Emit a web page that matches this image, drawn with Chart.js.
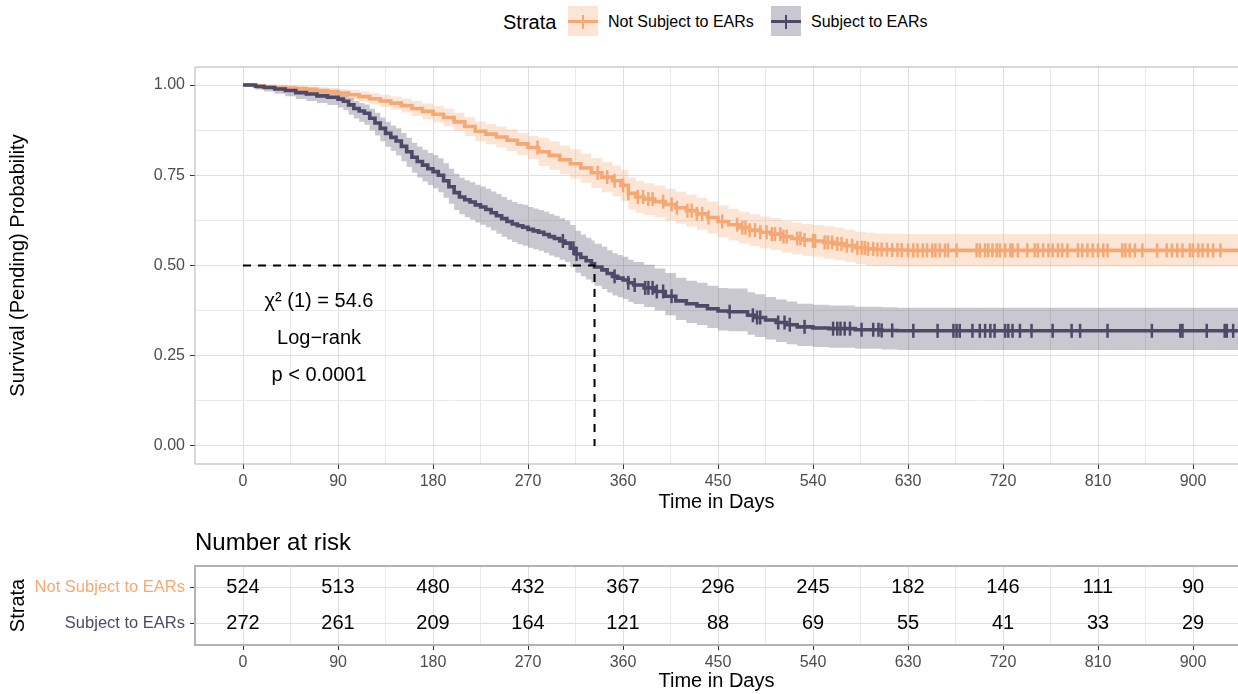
<!DOCTYPE html>
<html>
<head>
<meta charset="utf-8">
<script src="https://cdn.jsdelivr.net/npm/chart.js@4.4.1/dist/chart.umd.min.js"></script>
<style>
  html, body { margin: 0; padding: 0; background: #fff; width: 1238px; height: 694px; overflow: hidden; }
  body { position: relative; font-family: 'Liberation Sans', Arial, sans-serif; color: #000; }
  .abs { position: absolute; white-space: nowrap; }
  #km-wrap { position: absolute; left: 0; top: 0; width: 1238px; height: 514px; }
  #risk-wrap { position: absolute; left: 0; top: 520px; width: 1238px; height: 174px; }
  .legend-title { font-size: 20px; line-height: 30px; top: 7px; left: 503px; }
  .legend-label { font-size: 16px; line-height: 30px; top: 7px; }
  .key { width: 30px; height: 30px; top: 6px; }
  .key .h { position: absolute; left: 0; right: 0; top: 13.5px; height: 3.5px; }
  .key .v { position: absolute; left: 13.75px; width: 2.5px; top: 8.5px; height: 14px; }
</style>
</head>
<body>
<div class="abs legend-title">Strata</div>
<div class="abs key" id="key-not" style="left:568px"><i class="h"></i><i class="v"></i></div>
<div class="abs legend-label" style="left:608px">Not Subject to EARs</div>
<div class="abs key" id="key-subj" style="left:771px"><i class="h"></i><i class="v"></i></div>
<div class="abs legend-label" style="left:811px">Subject to EARs</div>

<div id="km-wrap"><canvas id="kmChart"></canvas></div>
<div id="risk-wrap"><canvas id="riskChart"></canvas></div>

<script>
// Kaplan-Meier estimates with 95% limits, time in days
const NOT_T = [0, 10, 20, 30, 40, 50, 60, 70, 80, 90, 100, 110, 120, 130, 140, 150, 160, 170, 180, 190,
  200, 210, 220, 230, 240, 250, 260, 270, 280, 290, 300, 310, 320, 330, 340, 350, 358, 365, 372, 380,
  390, 400, 410, 420, 430, 440, 450, 460, 470, 480, 490, 500, 510, 520, 530, 540, 550, 560, 570, 580,
  590, 600, 615, 630, 943];
const NOT_S = [1.000, 0.998, 0.996, 0.994, 0.992, 0.990, 0.988, 0.985, 0.982, 0.978, 0.973, 0.968, 0.962, 0.956, 0.950, 0.943, 0.935, 0.927, 0.919, 0.910,
  0.898, 0.885, 0.872, 0.864, 0.856, 0.847, 0.837, 0.827, 0.815, 0.805, 0.793, 0.782, 0.770, 0.757, 0.745, 0.735, 0.722, 0.700, 0.690, 0.684,
  0.677, 0.669, 0.660, 0.652, 0.643, 0.633, 0.622, 0.613, 0.605, 0.598, 0.592, 0.587, 0.580, 0.575, 0.571, 0.568, 0.564, 0.560, 0.555, 0.549,
  0.546, 0.544, 0.543, 0.542, 0.542];
const NOT_LOWER = [1.000, 0.995, 0.992, 0.989, 0.986, 0.983, 0.980, 0.976, 0.972, 0.967, 0.960, 0.954, 0.947, 0.939, 0.932, 0.924, 0.914, 0.905, 0.896, 0.886,
  0.873, 0.859, 0.845, 0.836, 0.827, 0.817, 0.806, 0.795, 0.776, 0.765, 0.753, 0.741, 0.729, 0.715, 0.703, 0.692, 0.678, 0.656, 0.646, 0.640,
  0.633, 0.625, 0.616, 0.608, 0.599, 0.589, 0.578, 0.569, 0.561, 0.554, 0.548, 0.543, 0.536, 0.531, 0.527, 0.524, 0.519, 0.515, 0.510, 0.504,
  0.501, 0.499, 0.498, 0.497, 0.497];
const NOT_UPPER = [1.000, 1.000, 1.000, 0.999, 0.998, 0.997, 0.996, 0.994, 0.992, 0.989, 0.986, 0.982, 0.977, 0.973, 0.968, 0.962, 0.956, 0.949, 0.942, 0.934,
  0.923, 0.911, 0.899, 0.892, 0.885, 0.877, 0.868, 0.859, 0.853, 0.844, 0.832, 0.822, 0.810, 0.798, 0.787, 0.777, 0.765, 0.744, 0.734, 0.728,
  0.721, 0.713, 0.704, 0.696, 0.687, 0.677, 0.666, 0.657, 0.649, 0.642, 0.636, 0.631, 0.624, 0.619, 0.615, 0.612, 0.609, 0.605, 0.600, 0.594,
  0.591, 0.589, 0.588, 0.587, 0.587];

const SUBJ_T = [0, 5, 12, 20, 30, 40, 50, 60, 70, 80, 90, 95, 100, 105, 110, 115, 120, 125, 130, 135,
  140, 145, 150, 155, 160, 165, 170, 175, 180, 185, 190, 195, 200, 205, 210, 215, 220, 225, 230, 235,
  240, 245, 250, 255, 260, 265, 270, 275, 280, 285, 290, 295, 300, 305, 310, 315, 320, 325, 330, 333,
  340, 345, 350, 355, 360, 365, 370, 380, 390, 400, 410, 420, 430, 440, 450, 460, 470, 478, 485, 495,
  505, 515, 525, 540, 555, 580, 605, 620, 943];
const SUBJ_S = [1.000, 1.000, 0.996, 0.993, 0.989, 0.985, 0.979, 0.975, 0.970, 0.966, 0.961, 0.955, 0.945, 0.935, 0.928, 0.922, 0.908, 0.895, 0.880, 0.866,
  0.855, 0.845, 0.830, 0.815, 0.800, 0.788, 0.778, 0.768, 0.760, 0.750, 0.735, 0.718, 0.702, 0.690, 0.682, 0.676, 0.668, 0.662, 0.655, 0.646,
  0.638, 0.630, 0.622, 0.615, 0.610, 0.606, 0.600, 0.596, 0.592, 0.586, 0.580, 0.575, 0.568, 0.562, 0.548, 0.532, 0.522, 0.513, 0.505, 0.496,
  0.488, 0.478, 0.470, 0.465, 0.460, 0.452, 0.446, 0.438, 0.428, 0.415, 0.402, 0.394, 0.388, 0.380, 0.374, 0.372, 0.372, 0.362, 0.356, 0.349,
  0.342, 0.336, 0.330, 0.327, 0.325, 0.322, 0.320, 0.319, 0.319];
const SUBJ_LOWER = [1.000, 1.000, 0.988, 0.982, 0.976, 0.969, 0.961, 0.956, 0.950, 0.945, 0.938, 0.931, 0.918, 0.907, 0.898, 0.890, 0.874, 0.860, 0.844, 0.829,
  0.817, 0.805, 0.789, 0.773, 0.757, 0.744, 0.733, 0.723, 0.714, 0.703, 0.688, 0.671, 0.654, 0.642, 0.634, 0.627, 0.619, 0.613, 0.606, 0.597,
  0.588, 0.580, 0.572, 0.565, 0.559, 0.555, 0.549, 0.545, 0.541, 0.535, 0.528, 0.523, 0.516, 0.510, 0.496, 0.480, 0.470, 0.461, 0.453, 0.444,
  0.435, 0.425, 0.417, 0.412, 0.407, 0.399, 0.393, 0.385, 0.375, 0.362, 0.349, 0.341, 0.335, 0.327, 0.320, 0.318, 0.318, 0.308, 0.302, 0.295,
  0.288, 0.282, 0.277, 0.274, 0.272, 0.269, 0.267, 0.266, 0.266];
const SUBJ_UPPER = [1.000, 1.000, 1.000, 1.000, 0.997, 0.996, 0.990, 0.988, 0.984, 0.981, 0.977, 0.973, 0.965, 0.956, 0.950, 0.946, 0.934, 0.923, 0.910, 0.898,
  0.888, 0.880, 0.867, 0.854, 0.840, 0.830, 0.821, 0.812, 0.806, 0.797, 0.783, 0.768, 0.754, 0.743, 0.736, 0.731, 0.724, 0.719, 0.713, 0.705,
  0.698, 0.690, 0.682, 0.676, 0.671, 0.668, 0.662, 0.658, 0.654, 0.649, 0.643, 0.638, 0.631, 0.625, 0.612, 0.596, 0.586, 0.577, 0.569, 0.560,
  0.552, 0.542, 0.534, 0.529, 0.524, 0.516, 0.510, 0.502, 0.492, 0.479, 0.466, 0.458, 0.452, 0.444, 0.438, 0.436, 0.436, 0.426, 0.420, 0.413,
  0.406, 0.400, 0.394, 0.391, 0.389, 0.386, 0.384, 0.383, 0.383];

// censoring times
const NOT_CENSOR = [279, 336, 345, 352, 360, 365, 374, 379, 384, 388, 398, 406, 411, 421, 425, 430, 435, 441, 454, 468,
  473, 476, 480, 485, 490, 496, 501, 504, 509, 512, 515, 525, 528, 532, 540, 542, 551, 554, 558, 563,
  567, 572, 577, 582, 586, 589, 592, 597, 601, 605, 610, 615, 620, 624, 630, 635, 639, 644, 648, 653,
  656, 660, 665, 668, 676, 695, 698, 703, 706, 710, 714, 717, 722, 727, 729, 734, 743, 750, 753, 758,
  763, 767, 772, 776, 781, 791, 795, 800, 805, 810, 815, 819, 833, 836, 840, 845, 852, 866, 875, 880,
  885, 890, 897, 900, 905, 909, 914, 919, 926];
const SUBJ_CENSOR = [303, 313, 316, 352, 365, 371, 381, 384, 388, 392, 398, 406, 461, 483, 487, 490, 507, 513, 518, 532,
  559, 563, 566, 570, 575, 586, 597, 602, 605, 615, 635, 658, 673, 676, 679, 691, 698, 703, 708, 712,
  722, 725, 729, 736, 747, 767, 785, 793, 819, 861, 888, 890, 913, 930, 932, 938];

const MEDIAN_SUBJ = 333;

// number at risk table
const RISK_TIMES = [0, 90, 180, 270, 360, 450, 540, 630, 720, 810, 900];
const RISK_NOT = [524, 513, 480, 432, 367, 296, 245, 182, 146, 111, 90];
const RISK_SUBJ = [272, 261, 209, 164, 121, 88, 69, 55, 41, 33, 29];

const X_TICKS = [0, 45, 90, 135, 180, 225, 270, 315, 360, 405, 450, 495, 540, 585, 630, 675, 720, 765, 810, 855, 900];
const Y_TICKS = [0, 0.125, 0.25, 0.375, 0.5, 0.625, 0.75, 0.875, 1];

const COLOR_NOT = '#F5A874';
const COLOR_SUBJ = '#4C4A68';
const FILL_NOT = 'rgba(245, 168, 116, 0.3)';
const FILL_SUBJ = 'rgba(76, 74, 104, 0.3)';
const FONT = "'Liberation Sans', Arial, sans-serif";
const GRID_MAJOR = '#DEDEDE';
const GRID_MINOR = '#E9E9E9';
const TICK_TEXT = '#4D4D4D';

document.querySelector('#key-not').style.background = FILL_NOT;
document.querySelector('#key-not .h').style.background = COLOR_NOT;
document.querySelector('#key-not .v').style.background = COLOR_NOT;
document.querySelector('#key-subj').style.background = FILL_SUBJ;
document.querySelector('#key-subj .h').style.background = COLOR_SUBJ;
document.querySelector('#key-subj .v').style.background = COLOR_SUBJ;

function toPoints(xs, ys) {
  return xs.map((x, i) => ({ x, y: ys[i] }));
}

function survAt(times, surv, t) {
  let s = surv[0];
  for (let i = 0; i < times.length; i++) {
    if (times[i] <= t) s = surv[i];
    else break;
  }
  return s;
}

function censorPoints(censor, times, surv) {
  return censor.map((t) => ({ x: t, y: survAt(times, surv, t) }));
}

function stepLine(data, color) {
  return { data, stepped: 'before', borderColor: color, borderWidth: 3.6, pointRadius: 0, fill: false };
}

function censorMarks(data, color) {
  return {
    data,
    showLine: false,
    pointStyle: 'line',
    rotation: 90,
    pointRadius: 7,
    pointBorderWidth: 2.5,
    pointBorderColor: color,
    borderColor: color
  };
}

function bandEdge(data, fillColor) {
  return {
    data,
    stepped: 'before',
    borderWidth: 0,
    pointRadius: 0,
    backgroundColor: fillColor || 'transparent',
    fill: fillColor ? '+1' : false
  };
}

const isMajorX = (v) => v % 90 === 0;

function xScale() {
  return {
    type: 'linear',
    min: -45.5,
    max: 942.6,
    afterBuildTicks: (s) => { s.ticks = X_TICKS.map((v) => ({ value: v })); },
    ticks: {
      autoSkip: false,
      maxRotation: 0,
      padding: 3,
      color: TICK_TEXT,
      font: { family: FONT, size: 16 },
      callback: (v) => (isMajorX(v) ? String(v) : '')
    },
    grid: {
      color: (ctx) => (ctx.tick && isMajorX(ctx.tick.value) ? GRID_MAJOR : GRID_MINOR),
      tickColor: (ctx) => (ctx.tick && isMajorX(ctx.tick.value) ? '#333333' : 'rgba(0,0,0,0)'),
      tickLength: 5,
      lineWidth: 1
    },
    border: { display: false },
    title: {
      display: true,
      text: 'Time in Days',
      color: '#000',
      font: { family: FONT, size: 20 },
      padding: { top: 0, bottom: 0 }
    }
  };
}

// ggplot-like panel outline: left, top and bottom edges
function panelBorder(width) {
  return {
    id: 'panelBorder',
    beforeDatasetsDraw(chart) {
      const { ctx, chartArea: a } = chart;
      ctx.save();
      ctx.strokeStyle = '#B3B3B3';
      ctx.lineWidth = width;
      ctx.beginPath();
      ctx.moveTo(a.right + 2, a.top);
      ctx.lineTo(a.left, a.top);
      ctx.lineTo(a.left, a.bottom);
      ctx.lineTo(a.right + 2, a.bottom);
      ctx.stroke();
      ctx.restore();
    }
  };
}

const logRankText = {
  id: 'logRankText',
  afterDatasetsDraw(chart) {
    const { ctx, scales: { x, y } } = chart;
    const lines = [['χ² (1) = 54.6', 0.40], ['Log−rank', 0.297], ['p < 0.0001', 0.195]];
    ctx.save();
    ctx.fillStyle = '#000';
    ctx.font = `20px ${FONT}`;
    ctx.textAlign = 'center';
    ctx.textBaseline = 'middle';
    lines.forEach(([text, v]) => ctx.fillText(text, x.getPixelForValue(72), y.getPixelForValue(v)));
    ctx.restore();
  }
};

// first dataset is drawn on top
new Chart(document.getElementById('kmChart'), {
  type: 'line',
  data: {
    datasets: [
      {
        data: [{ x: 0, y: 0.5 }, { x: MEDIAN_SUBJ, y: 0.5 }, { x: MEDIAN_SUBJ, y: 0 }],
        borderColor: '#000',
        borderWidth: 2,
        borderDash: [8, 7],
        pointRadius: 0,
        fill: false
      },
      censorMarks(censorPoints(SUBJ_CENSOR, SUBJ_T, SUBJ_S), COLOR_SUBJ),
      stepLine(toPoints(SUBJ_T, SUBJ_S), COLOR_SUBJ),
      censorMarks(censorPoints(NOT_CENSOR, NOT_T, NOT_S), COLOR_NOT),
      stepLine(toPoints(NOT_T, NOT_S), COLOR_NOT),
      bandEdge(toPoints(SUBJ_T, SUBJ_UPPER), FILL_SUBJ),
      bandEdge(toPoints(SUBJ_T, SUBJ_LOWER)),
      bandEdge(toPoints(NOT_T, NOT_UPPER), FILL_NOT),
      bandEdge(toPoints(NOT_T, NOT_LOWER))
    ]
  },
  options: {
    responsive: true,
    maintainAspectRatio: false,
    animation: false,
    devicePixelRatio: 1,
    layout: { autoPadding: false, padding: { top: 67, left: 0, right: 0, bottom: 0 } },
    plugins: {
      legend: { display: false },
      tooltip: { enabled: false }
    },
    scales: {
      x: Object.assign(xScale(), {
        afterFit: (s) => { s.height = 50; }
      }),
      y: {
        type: 'linear',
        min: -0.05,
        max: 1.05,
        afterBuildTicks: (s) => { s.ticks = Y_TICKS.map((v) => ({ value: v })); },
        afterFit: (s) => { s.width = 195; },
        ticks: {
          padding: 5,
          color: TICK_TEXT,
          font: { family: FONT, size: 16 },
          callback: (v) => (v * 4 % 1 === 0 ? v.toFixed(2) : '')
        },
        grid: {
          color: (ctx) => (ctx.tick && ctx.tick.value * 4 % 1 === 0 ? GRID_MAJOR : GRID_MINOR),
          tickColor: (ctx) => (ctx.tick && ctx.tick.value * 4 % 1 === 0 ? '#333333' : 'rgba(0,0,0,0)'),
          tickLength: 5
        },
        border: { display: false },
        title: {
          display: true,
          text: 'Survival (Pending) Probability',
          color: '#000',
          font: { family: FONT, size: 20 },
          padding: { top: 6, bottom: 0 }
        }
      }
    }
  },
  plugins: [panelBorder(1), logRankText]
});

// risk table: counts drawn at each dataset point
const riskLabels = {
  id: 'riskLabels',
  afterDatasetsDraw(chart) {
    const { ctx } = chart;
    ctx.save();
    ctx.fillStyle = '#000';
    ctx.font = `20px ${FONT}`;
    ctx.textAlign = 'center';
    ctx.textBaseline = 'middle';
    chart.data.datasets.forEach((ds, i) => {
      chart.getDatasetMeta(i).data.forEach((pt, j) => {
        ctx.fillText(String(ds.counts[j]), pt.x, pt.y);
      });
    });
    ctx.font = `24px ${FONT}`;
    ctx.textAlign = 'left';
    ctx.fillText('Number at risk', chart.chartArea.left, 23);
    ctx.restore();
  }
};

const ROW_NAMES = { 2: 'Not Subject to EARs', 1: 'Subject to EARs' };

new Chart(document.getElementById('riskChart'), {
  type: 'scatter',
  data: {
    datasets: [
      { counts: RISK_NOT, data: RISK_TIMES.map((t) => ({ x: t, y: 2 })), pointRadius: 0 },
      { counts: RISK_SUBJ, data: RISK_TIMES.map((t) => ({ x: t, y: 1 })), pointRadius: 0 }
    ]
  },
  options: {
    responsive: true,
    maintainAspectRatio: false,
    animation: false,
    devicePixelRatio: 1,
    layout: { autoPadding: false, padding: { top: 46, left: 0, right: 0, bottom: 0 } },
    plugins: {
      legend: { display: false },
      tooltip: { enabled: false }
    },
    scales: {
      x: Object.assign(xScale(), {
        afterFit: (s) => { s.height = 49; },
        title: {
          display: true,
          text: 'Time in Days',
          color: '#000',
          font: { family: FONT, size: 20 },
          padding: { top: 0, bottom: 1 }
        }
      }),
      y: {
        type: 'linear',
        min: 0.4,
        max: 2.6,
        afterBuildTicks: (s) => { s.ticks = [{ value: 1 }, { value: 2 }]; },
        afterFit: (s) => { s.width = 195; },
        ticks: {
          padding: 5,
          font: { family: FONT, size: 16.5 },
          color: (ctx) => (ctx.tick && ctx.tick.value === 2 ? COLOR_NOT : COLOR_SUBJ),
          callback: (v) => ROW_NAMES[v] || ''
        },
        grid: {
          color: GRID_MAJOR,
          tickColor: '#333333',
          tickLength: 5
        },
        border: { display: false },
        title: {
          display: true,
          text: 'Strata',
          color: '#000',
          font: { family: FONT, size: 20 },
          padding: { top: 6, bottom: 0 }
        }
      }
    }
  },
  plugins: [panelBorder(2), riskLabels]
});
</script>
</body>
</html>
